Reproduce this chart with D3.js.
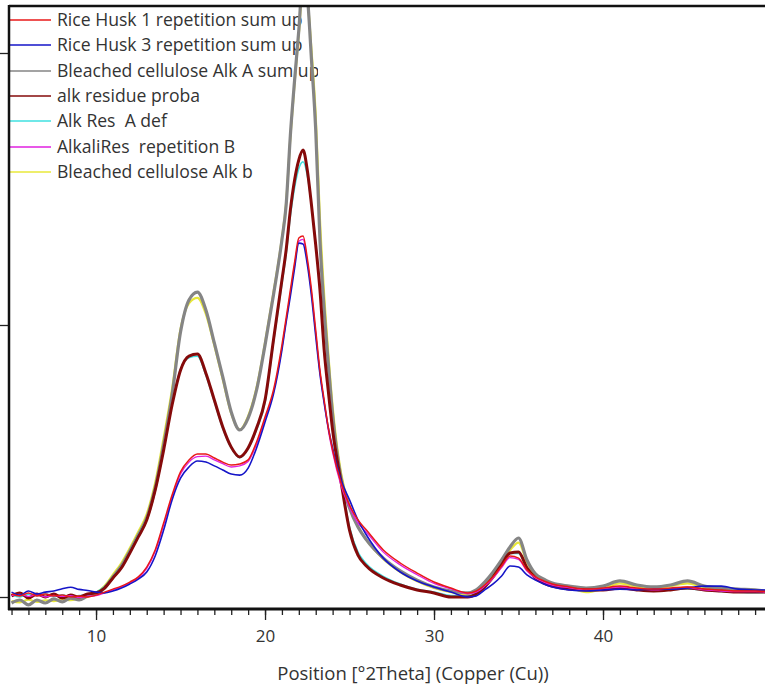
<!DOCTYPE html>
<html>
<head>
<meta charset="utf-8">
<script src="https://cdn.jsdelivr.net/npm/d3@7"></script>
<style>
  body { margin: 0; background: #fff; }
  svg { display: block; font-family: "Open Sans", "Noto Sans", sans-serif; }
</style>
</head>
<body>
<script>
const twoTheta = [5, 5.5, 6, 6.5, 7, 7.5, 8, 8.5, 9, 9.5, 10, 10.5, 11, 11.5, 12, 12.5, 13, 13.5, 14, 14.5,
  15, 15.5, 16, 16.5, 17, 17.5, 18, 18.5, 19, 19.5, 20, 20.5, 21, 21.25, 21.5, 21.75, 22, 22.25, 22.5, 22.75,
  23, 23.25, 23.5, 23.75, 24, 24.5, 25, 25.5, 26, 27, 28, 29, 30, 31, 32, 32.5, 33, 33.5, 34, 34.5,
  35, 35.5, 36, 36.5, 37, 38, 39, 40, 41, 42, 43, 44, 45, 46, 47, 48, 49, 50];

// intensities (counts)
const riceHusk1 = [11, 4, 15, 4, 11, 4, 7, 0, 4, 0, 7, 18, 29, 40, 55, 74, 110, 173, 272, 375,
  460, 504, 526, 526, 511, 496, 485, 489, 504, 570, 662, 761, 926, 1026, 1129, 1231, 1320, 1327, 1246, 1129,
  981, 834, 724, 621, 540, 419, 338, 283, 246, 173, 125, 88, 55, 33, 15, 22, 44, 74, 114, 151,
  143, 99, 74, 59, 48, 37, 29, 33, 40, 33, 29, 33, 37, 29, 26, 22, 22, 18];

const riceHusk3 = [18, 7, 22, 11, 18, 22, 30, 36, 28, 24, 18, 15, 22, 33, 48, 66, 92, 151, 246, 357,
  437, 478, 500, 496, 482, 467, 452, 448, 474, 548, 643, 746, 908, 1011, 1106, 1209, 1301, 1298, 1224, 1106,
  959, 820, 713, 621, 548, 430, 357, 283, 228, 143, 92, 59, 37, 18, 0, 4, 26, 48, 77, 114,
  110, 81, 62, 48, 37, 26, 22, 26, 29, 26, 29, 29, 33, 40, 40, 29, 26, 26];

const bleachedA = [-22, -11, -29, -11, -22, -7, -18, -4, -11, 4, 11, 33, 74, 114, 169, 228, 290, 401, 559, 743,
  974, 1092, 1121, 1055, 934, 809, 680, 614, 658, 761, 926, 1110, 1313, 1441, 1698, 1900, 2084, 2286, 2213, 1974,
  1717, 1313, 1055, 853, 669, 437, 327, 257, 210, 143, 96, 62, 37, 22, 15, 26, 55, 92, 136, 184,
  217, 136, 85, 66, 51, 40, 33, 40, 59, 44, 37, 44, 59, 40, 33, 29, 26, 18];

const alkResidueProba = [4, 15, -4, 11, 0, 11, -4, 7, 0, 11, 15, 33, 70, 107, 162, 221, 283, 393, 540, 706,
  834, 886, 893, 823, 724, 625, 551, 515, 548, 621, 724, 945, 1165, 1276, 1423, 1533, 1607, 1643, 1570, 1441,
  1294, 1129, 908, 754, 614, 423, 246, 154, 114, 70, 44, 26, 15, 0, 0, 11, 37, 74, 118, 162,
  165, 107, 70, 51, 40, 29, 26, 26, 33, 26, 22, 26, 33, 26, 22, 18, 18, 18];

const alkResADef = [8, 0, 10, 5, 12, 2, 8, 0, 5, 8, 18, 38, 75, 112, 168, 228, 290, 400, 548, 712,
  838, 880, 885, 815, 718, 620, 548, 512, 545, 615, 715, 935, 1150, 1260, 1400, 1505, 1575, 1600, 1550, 1440,
  1300, 1140, 920, 765, 625, 432, 258, 165, 122, 76, 48, 28, 18, 5, 4, 14, 40, 78, 120, 160,
  160, 104, 68, 50, 40, 30, 25, 28, 35, 25, 24, 28, 30, 26, 20, 18, 16, 18];

const alkaliResB = [5, 10, 2, 8, 0, 6, 2, 5, -2, 3, 5, 15, 26, 37, 52, 70, 105, 168, 265, 368,
  452, 496, 516, 518, 504, 490, 478, 482, 498, 562, 655, 752, 915, 1015, 1118, 1220, 1308, 1315, 1235, 1118,
  970, 825, 716, 612, 532, 410, 330, 272, 238, 165, 118, 82, 50, 30, 12, 18, 40, 70, 108, 145,
  138, 95, 70, 55, 44, 34, 26, 30, 36, 30, 26, 30, 34, 26, 22, 20, 20, 16];

const bleachedB = [-15, -20, -10, -18, -12, -15, -8, -12, -5, 0, 15, 40, 82, 125, 180, 240, 305, 420, 585, 765,
  985, 1080, 1100, 1040, 925, 800, 675, 615, 665, 770, 935, 1120, 1320, 1450, 1690, 1890, 2070, 2250, 2200, 2010,
  1770, 1390, 1110, 890, 700, 455, 335, 260, 210, 140, 92, 58, 33, 18, 10, 20, 48, 85, 128, 172,
  200, 128, 80, 60, 45, 35, 18, 30, 50, 38, 32, 40, 50, 35, 30, 25, 22, 15];

// legend order (top to bottom)
const legendNames = ["Rice Husk 1 repetition sum up", "Rice Husk 3 repetition sum up",
  "Bleached cellulose Alk A sum up", "alk residue proba", "Alk Res  A def",
  "AlkaliRes  repetition B", "Bleached cellulose Alk b"];
const legendColors = ["#e81818", "#1515c8", "#858585", "#850a0a", "#3fe0e0", "#e020e0", "#e8e83a"];

const xMajorTicks = [10, 20, 30, 40];
const xMinorTicks = d3.range(5, 50);
const yTicks = [0, 1000, 2000];

const width = 765, height = 685;
const plotLeft = 9, plotTop = 6, plotBottom = 609;

const svg = d3.select("body").append("svg")
  .attr("width", width)
  .attr("height", height);

const x = d3.scaleLinear().domain([4.85, 50]).range([plotLeft, 772]);
const y = d3.scaleLinear().domain([0, 2000]).range([597, 53]);

// clip for the plot area
svg.append("clipPath").attr("id", "plotClip")
  .append("rect").attr("x", plotLeft).attr("y", plotTop)
  .attr("width", width - plotLeft).attr("height", plotBottom - plotTop);
svg.append("clipPath").attr("id", "legendClip")
  .append("rect").attr("x", 0).attr("y", 0).attr("width", 318).attr("height", 200);

// legend (sits behind the curves)
const legend = svg.append("g").attr("clip-path", "url(#legendClip)");
const rowY = [20, 45, 71, 96, 121, 147, 172];
legendNames.forEach((name, i) => {
  legend.append("line")
    .attr("x1", plotLeft).attr("x2", 51)
    .attr("y1", rowY[i]).attr("y2", rowY[i])
    .attr("stroke", legendColors[i]).attr("stroke-width", 1.3);
  legend.append("text")
    .attr("x", 57).attr("y", rowY[i]).attr("dy", "0.36em")
    .attr("font-size", 17.6).attr("fill", "#333")
    .style("white-space", "pre")
    .text(name);
});

// curves
const series = [
  { values: bleachedB, color: legendColors[6], w: 2.2 },
  { values: bleachedA, color: legendColors[2], w: 3.2 },
  { values: alkResADef, color: legendColors[4], w: 1.6 },
  { values: alkResidueProba, color: legendColors[3], w: 3 },
  { values: alkaliResB, color: legendColors[5], w: 1.3 },
  { values: riceHusk3, color: legendColors[1], w: 1.6 },
  { values: riceHusk1, color: legendColors[0], w: 1.5 }
];

const line = d3.line()
  .x((d, i) => x(twoTheta[i]))
  .y(d => y(d))
  .curve(d3.curveMonotoneX);

const plot = svg.append("g").attr("clip-path", "url(#plotClip)");
series.forEach(s => {
  plot.append("path")
    .datum(s.values)
    .attr("fill", "none")
    .attr("stroke", s.color)
    .attr("stroke-width", s.w)
    .attr("stroke-linejoin", "round")
    .attr("d", line);
});

// frame
svg.append("line").attr("x1", plotLeft).attr("x2", width).attr("y1", plotTop).attr("y2", plotTop)
  .attr("stroke", "#111").attr("stroke-width", 2.5);

// x axis: minor + major ticks
const xMinor = svg.append("g").attr("transform", `translate(0,${plotBottom})`)
  .call(d3.axisBottom(x).tickValues(xMinorTicks).tickSize(6).tickFormat(""));
const xMajor = svg.append("g").attr("transform", `translate(0,${plotBottom})`)
  .call(d3.axisBottom(x).tickValues(xMajorTicks).tickSize(11).tickPadding(10));
[xMinor, xMajor].forEach(g => {
  g.select(".domain").remove();
  g.selectAll(".tick line").attr("stroke", "#222").attr("stroke-width", 1.3);
});
xMajor.selectAll(".tick text")
  .attr("font-size", 17).attr("fill", "#333")
  .attr("font-family", "\"Open Sans\", sans-serif");

// y axis ticks, labels cut off by the crop
const yAxis = svg.append("g").attr("transform", `translate(${plotLeft},0)`)
  .call(d3.axisLeft(y).tickValues(yTicks).tickSize(9).tickFormat(""));
yAxis.select(".domain").remove();
yAxis.selectAll(".tick line").attr("stroke", "#222").attr("stroke-width", 1.3);

svg.append("line").attr("x1", plotLeft).attr("x2", plotLeft).attr("y1", plotTop - 1).attr("y2", plotBottom + 1)
  .attr("stroke", "#111").attr("stroke-width", 2.5);
svg.append("line").attr("x1", plotLeft - 1).attr("x2", width).attr("y1", plotBottom).attr("y2", plotBottom)
  .attr("stroke", "#111").attr("stroke-width", 3);

// axis title
svg.append("text")
  .attr("x", 413).attr("y", 673).attr("dy", "0.36em")
  .attr("text-anchor", "middle")
  .attr("font-size", 18.5).attr("fill", "#333")
  .text("Position [°2Theta] (Copper (Cu))");
</script>
</body>
</html>
